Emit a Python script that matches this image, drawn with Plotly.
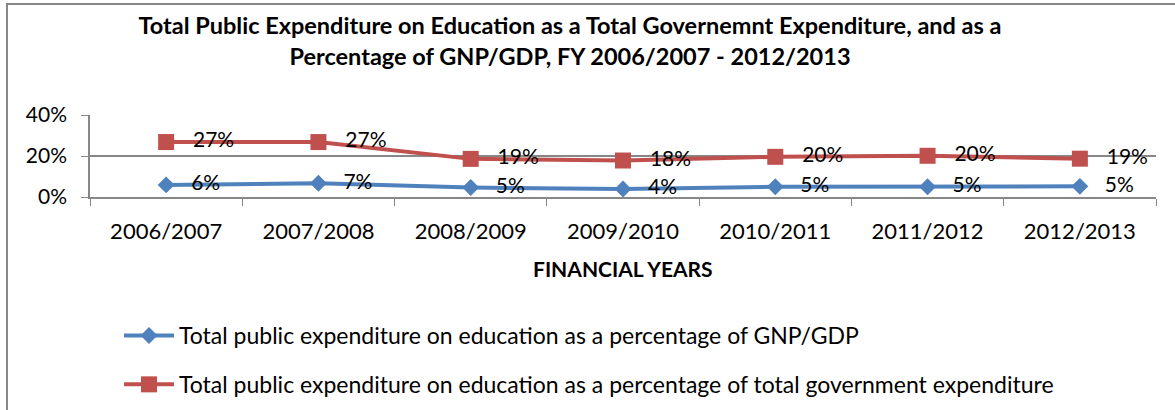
import plotly.graph_objects as go

years = ["2006/2007", "2007/2008", "2008/2009", "2009/2010", "2010/2011", "2011/2012", "2012/2013"]
gdp_share = [0.059, 0.067, 0.046, 0.039, 0.050, 0.050, 0.052]
gov_share = [0.268, 0.268, 0.186, 0.178, 0.196, 0.201, 0.187]
gdp_labels = ["6%", "7%", "5%", "4%", "5%", "5%", "5%"]
gov_labels = ["27%", "27%", "19%", "18%", "20%", "20%", "19%"]
y_ticks = [0, 0.2, 0.4]
y_tick_text = ["0%", "20%", "40%"]

name_gdp = "Total public expenditure on education as a percentage of GNP/GDP"
name_gov = "Total public expenditure on education as a percentage of total government expenditure"
title_text = ("Total Public Expenditure on Education as a Total Governemnt Expenditure, and as a<br>"
              "Percentage of GNP/GDP, FY 2006/2007 - 2012/2013")
x_title = "FINANCIAL YEARS"

FONT = "Lato"
BLUE = "#4F81BD"
RED = "#C0504D"
GRAY = "#878787"

fig = go.Figure()
fig.add_trace(go.Scatter(
    x=years, y=gdp_share, name=name_gdp, mode="lines+markers+text",
    line=dict(color=BLUE, width=4), marker=dict(symbol="diamond", size=13, color=BLUE),
    text=gdp_labels, texttemplate="\u2002\u00a0%{text}", textposition="middle right",
    textfont=dict(size=21, color="black", family=FONT),
    legendgroup="a", cliponaxis=False,
))
fig.add_trace(go.Scatter(
    x=years, y=gov_share, name=name_gov, mode="lines+markers+text",
    line=dict(color=RED, width=4), marker=dict(symbol="square", size=16, color=RED),
    text=gov_labels, texttemplate="\u2002\u00a0%{text}", textposition="middle right",
    textfont=dict(size=21, color="black", family=FONT),
    legendgroup="b", cliponaxis=False,
))

W, H = 1175, 410
L, R, T, B = 90, 19, 115, 213
pw = W - L - R
ph = H - T - B


def px_x(x):
    return (x - L) / pw


def px_y(y):
    return (H - B - y) / ph


fig.update_layout(
    width=W, height=H,
    margin=dict(l=L, r=R, t=T, b=B, autoexpand=False),
    paper_bgcolor="white", plot_bgcolor="white",
    font=dict(family=FONT, size=21, color="black"),
    title=dict(text=title_text, x=570 / W, xanchor="center", xref="container",
               y=1 - 34 / H, yanchor="middle", yref="container",
               font=dict(family=FONT, size=23.5, color="black", weight="bold")),
    showlegend=True,
    legend=dict(orientation="v", x=px_x(119), xanchor="left", y=px_y(314), yanchor="top",
                traceorder="grouped", tracegroupgap=16, itemwidth=50,
                font=dict(size=23, family=FONT), bgcolor="rgba(0,0,0,0)"),
    xaxis=dict(showgrid=False, showline=True, linecolor=GRAY, linewidth=1.5,
               ticks="outside", tickson="boundaries", ticklen=7, tickcolor=GRAY,
               ticklabelstandoff=14,
               tickfont=dict(size=22, family=FONT), range=[-0.5, 6.5]),
    yaxis=dict(range=[0, 0.4], tickvals=y_ticks, ticktext=y_tick_text, showgrid=True,
               gridcolor=GRAY, gridwidth=1.5, showline=True, linecolor=GRAY, linewidth=1.5,
               ticks="outside", ticklen=7, tickcolor=GRAY, zeroline=False,
               ticklabelstandoff=10,
               tickfont=dict(size=21, family=FONT)),
    shapes=[dict(type="rect", xref="paper", yref="paper",
                 x0=px_x(7), x1=px_x(1190), y0=px_y(425), y1=px_y(4),
                 line=dict(color=GRAY, width=2), fillcolor="rgba(0,0,0,0)", layer="below")],
    annotations=[dict(text="<b>" + x_title + "</b>", xref="paper", yref="paper",
                      x=px_x(623), y=px_y(268), xanchor="center", yanchor="middle",
                      showarrow=False, font=dict(size=21, family=FONT))],
)

fig.write_html("out.html", config={"displayModeBar": False},
               post_script="document.body.style.margin='0';document.body.style.overflow='hidden';")
